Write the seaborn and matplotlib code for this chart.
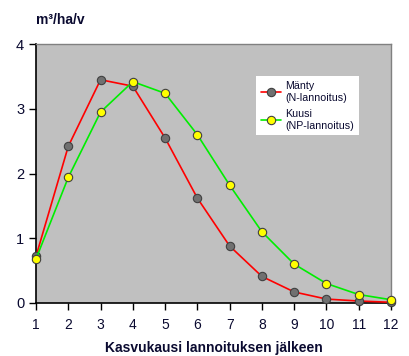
import pandas as pd
import numpy as np
import seaborn as sns
import matplotlib.pyplot as plt

# Kasvukausi lannoituksen jälkeen ja kasvureaktio (m³/ha/v)
kasvukausi = [1, 2, 3, 4, 5, 6, 7, 8, 9, 10, 11, 12]
manty = [0.72, 2.42, 3.45, 3.35, 2.55, 1.62, 0.88, 0.41, 0.17, 0.06, 0.03, 0.01]
kuusi = [0.68, 1.94, 2.95, 3.42, 3.24, 2.60, 1.82, 1.10, 0.60, 0.30, 0.13, 0.05]
sarjat = ['Mänty\n(N-lannoitus)', 'Kuusi\n(NP-lannoitus)']

df = pd.DataFrame({
    'kausi': kasvukausi * 2,
    'kasvu': manty + kuusi,
    'sarja': [sarjat[0]] * len(manty) + [sarjat[1]] * len(kuusi),
})

sns.set_style('white')
plt.rcParams['font.family'] = ['Liberation Sans', 'DejaVu Sans']
teksti = '#0a0a30'

fig = plt.figure(figsize=(4.09, 3.56), dpi=100)
ax = fig.add_axes([0.088, 0.149, 0.868, 0.727])
ax.set_facecolor('#c0c0c0')

tyylit = {
    sarjat[0]: dict(color='#ff0000', markerfacecolor='#707070'),
    sarjat[1]: dict(color='#00ee00', markerfacecolor='#ffff00'),
}
for nimi in sarjat:
    osa = df[df.sarja == nimi]
    sns.lineplot(data=osa, x='kausi', y='kasvu', ax=ax, marker='o', markersize=6,
                 markeredgecolor='#404040', markeredgewidth=0.8, linewidth=1.2,
                 label=nimi, clip_on=False, zorder=3, **tyylit[nimi])

ax.set_xlim(1, 12)
ax.set_ylim(0, 4)
ax.set_xticks(kasvukausi)
ax.set_yticks([0, 1, 2, 3, 4])
ax.tick_params(axis='both', labelsize=10, direction='out', length=5, width=1,
               colors='black', labelcolor=teksti, bottom=True, left=True)
ax.tick_params(axis='y', labelsize=10.5)
ax.tick_params(axis='x', pad=6)

for s in ['left', 'bottom']:
    ax.spines[s].set_color('black')
    ax.spines[s].set_linewidth(1.2)
for s in ['top', 'right']:
    ax.spines[s].set_color('#808080')
    ax.spines[s].set_linewidth(1)

ax.set_xlabel('Kasvukausi lannoituksen jälkeen', fontsize=10, fontweight='bold',
              labelpad=6, color=teksti)
ax.set_ylabel('')
fig.text(0.088, 0.945, 'm³/ha/v', fontsize=10, fontweight='bold', ha='left',
         va='center', color=teksti)

leg = ax.legend(loc='upper left', bbox_to_anchor=(0.62, 0.876), borderaxespad=0,
                fontsize=7.7, frameon=True, fancybox=False, framealpha=1,
                edgecolor='white', handlelength=1.9, borderpad=0.45,
                labelspacing=0.6, handletextpad=0.4)
leg.get_frame().set_linewidth(0)
for t in leg.get_texts():
    t.set_color(teksti)

fig.savefig('out.png', dpi=100)
